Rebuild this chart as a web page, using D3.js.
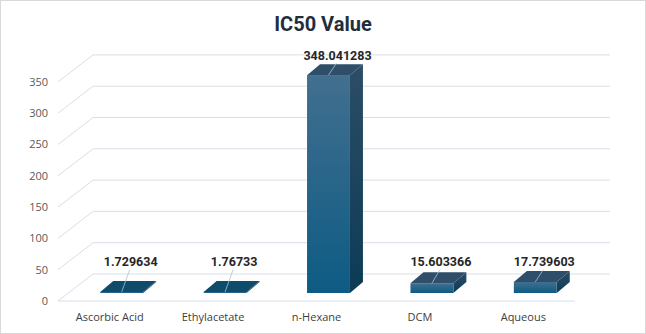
<!DOCTYPE html>
<html><head><meta charset="utf-8">
<script src="https://cdn.jsdelivr.net/npm/d3@7/dist/d3.min.js"></script>
<style>html,body{margin:0;padding:0;background:#fff;}svg{display:block;}</style>
</head><body>
<svg id="chart" width="646" height="334"></svg>
<script>
const categories = ["Ascorbic Acid", "Ethylacetate", "n-Hexane", "DCM", "Aqueous"];
const values = [1.729634, 1.76733, 348.041283, 15.603366, 17.739603];
const valueLabels = ["1.729634", "1.76733", "348.041283", "15.603366", "17.739603"];
const yTicks = [0, 50, 100, 150, 200, 250, 300, 350];
const title = "IC50 Value";

const W = 646, H = 334;
const svg = d3.select("#chart");

// background + border
svg.append("rect").attr("x", 0.5).attr("y", 0.5).attr("width", W - 1).attr("height", H - 1)
  .attr("fill", "#fff").attr("stroke", "#d9d9d9").attr("stroke-width", 1);

const floorLeft = 58, floorRight = 575, floorY = 301;
const depth = { dx: 35, dy: -27 };      // full floor depth
const front = { dx: 12, dy: -8 };       // bar front offset into depth
const bar = { dx: 13, dy: -11 };        // bar depth

const x = d3.scaleBand().domain(categories).range([floorLeft, floorRight])
  .paddingInner(0.585).paddingOuter(0.2925);
const y = d3.scaleLinear().domain([0, 350]).range([floorY, floorY - 7 * 31.3]);

const defs = svg.append("defs");
const gFront = defs.append("linearGradient").attr("id", "gFront").attr("x1", 0).attr("y1", 0).attr("x2", 0).attr("y2", 1);
gFront.append("stop").attr("offset", "0%").attr("stop-color", "#426f8f");
gFront.append("stop").attr("offset", "100%").attr("stop-color", "#0d5b84");
const gSide = defs.append("linearGradient").attr("id", "gSide").attr("x1", 0).attr("y1", 0).attr("x2", 0).attr("y2", 1);
gSide.append("stop").attr("offset", "0%").attr("stop-color", "#2c4d66");
gSide.append("stop").attr("offset", "100%").attr("stop-color", "#0c3b56");

// gridlines
const grid = svg.append("g").attr("stroke", "#d8dfe7").attr("stroke-width", 1).attr("fill", "none");
yTicks.forEach(t => {
  const yf = y(t), yb = y(t) + depth.dy;
  grid.append("line").attr("x1", floorLeft).attr("y1", yf).attr("x2", floorLeft + depth.dx).attr("y2", yb);
  grid.append("line").attr("x1", floorLeft + depth.dx).attr("y1", yb).attr("x2", floorRight + depth.dx).attr("y2", yb);
});
grid.append("line").attr("x1", floorLeft).attr("y1", floorY).attr("x2", floorRight).attr("y2", floorY);

// y axis labels
svg.append("g").selectAll("text").data(yTicks).join("text")
  .attr("x", 48).attr("y", d => y(d)).attr("dy", "0.35em")
  .attr("text-anchor", "end").attr("font-family", "Open Sans, sans-serif").attr("font-size", 11)
  .attr("fill", "#595959").text(d => d);

// category labels
svg.append("g").selectAll("text").data(categories).join("text")
  .attr("x", d => x(d) + x.bandwidth() / 2).attr("y", 317).attr("dy", "0.35em")
  .attr("text-anchor", "middle").attr("font-family", "Open Sans, sans-serif").attr("font-size", 11)
  .attr("fill", "#404040").text(d => d);

// bars
const bars = svg.append("g");
categories.forEach((c, i) => {
  const v = values[i];
  const x0 = x(c) + front.dx, x1 = x0 + x.bandwidth();
  const top = y(v) + front.dy, bot = y(0) + front.dy;
  const h = bot - top;
  bars.append("path")
    .attr("d", `M${x1},${top}L${x1 + bar.dx},${top + bar.dy}L${x1 + bar.dx},${bot + bar.dy}L${x1},${bot}Z`)
    .attr("fill", "url(#gSide)");
  bars.append("rect").attr("x", x0).attr("y", top).attr("width", x1 - x0).attr("height", Math.max(h, 0.5))
    .attr("fill", "url(#gFront)");
  bars.append("path")
    .attr("d", `M${x0},${top}L${x1},${top}L${x1 + bar.dx},${top + bar.dy}L${x0 + bar.dx},${top + bar.dy}Z`)
    .attr("fill", h < 3 ? "#0f4b6b" : "#2e4e69");

  // data label + leader
  const cx = (x0 + x1) / 2;
  const ly = Math.min(top - 20, y(50) + front.dy);
  const lx = cx + 9;
  bars.append("line").attr("x1", lx - 1).attr("y1", ly + 8).attr("x2", cx).attr("y2", top)
    .attr("stroke", "#a8c3d9").attr("stroke-width", 0.8);
  bars.append("text").attr("x", lx).attr("y", ly).attr("dy", "0.35em")
    .attr("text-anchor", "middle").attr("font-family", "Roboto, sans-serif").attr("font-weight", "bold")
    .attr("font-size", 12.5).attr("fill", "#262626").text(valueLabels[i]);
});

// title
svg.append("text").attr("x", 323).attr("y", 24).attr("dy", "0.35em").attr("text-anchor", "middle")
  .attr("font-family", "Roboto, sans-serif").attr("font-weight", "bold").attr("font-size", 20)
  .attr("fill", "#1f2e3e").text(title);
</script>
</body></html>
